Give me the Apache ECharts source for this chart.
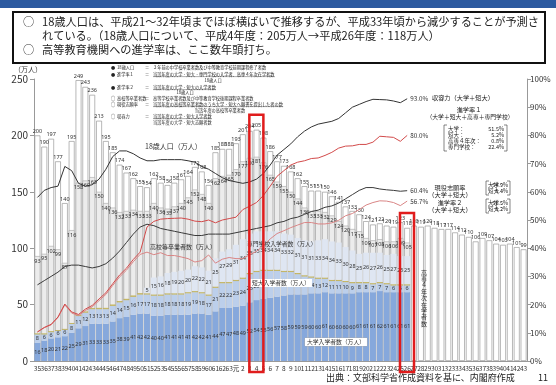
<!DOCTYPE html>
<html><head><meta charset="utf-8">
<script src="https://cdn.jsdelivr.net/npm/echarts@6/dist/echarts.min.js"></script>
<style>html,body{margin:0;padding:0;background:#fff}#c{width:556px;height:385px}</style>
</head><body><div id="c"></div>
<script>
// ---- categories (S = 昭和, H = 平成; prefix stripped in the tick labels)
const categories = ['S35','S36','S37','S38','S39','S40','S41','S42','S43','S44','S45','S46','S47','S48','S49','S50','S51','S52','S53','S54','S55','S56','S57','S58','S59','S60','S61','S62','S63',
'H元','H2','H3','H4','H5','H6','H7','H8','H9','H10','H11','H12','H13','H14','H15','H16','H17','H18','H19','H20','H21','H22','H23','H24','H25','H26',
'H27','H28','H29','H30','H31','H32','H33','H34','H35','H36','H37','H38','H39','H40','H41','H42','H43'];

// 18歳人口（万人）
const pop18 = [200,190,197,177,140,195,249,243,236,213,
195,185,174,167,162,155,154,162,158,156,
158,161,164,172,168,156,185,188,188,193,
201,204,205,198,186,177,173,168,162,155,
151,151,150,146,141,137,133,130,124,121,
122,120,119,123,118,
120,119,120,118,117,117,114,112,110,106,109,107,104,103,104,101,99];

// 高校等卒業者数（万人）
const hsGrad = [93,95,102,99,87,116,158,160,163,150,
140,136,132,133,134,133,133,140,136,135,
137,140,145,152,148,140,162,164,165,170,
177,180,181,176,165,159,155,150,144,136,
133,133,132,129,124,120,117,115,109,107,
108,106,106,109,105];

// 大学入学者数（万人）
const univ = [16,18,20,21,22,25,29,31,33,33,
33,35,38,39,41,42,42,40,40,41,
41,41,41,42,42,41,44,47,47,48,
49,52,54,55,56,57,58,59,59,59,
60,60,61,60,60,60,60,61,61,61,
62,61,61,61,61];

// 短大入学者数（万人）
const junior = [8,6,6,6,6,8,11,12,13,13,
13,14,14,15,16,17,17,18,18,18,
18,18,19,19,18,17,21,22,22,23,
24,25,25,25,24,23,21,20,18,16,
14,13,12,11,11,10,9,8,8,7,
7,7,6,6,6];

// 高専4年次在学者数（万人）
const kosen = [0,0,0,0,0,0.5,0.7,0.8,0.9,1,
1,1,1,1,1,1,1,1,1,1,
1,1,1,1,1,1,1,1,1,1,
1,1,1,1,1,1,1,1,1,1,
1,1,1,1,1,1,1,1,1,1,
1,1,1,1,1];

// 専門学校入学者数（万人）
const senmon = [null,null,null,null,null,null,null,null,null,null,
null,null,null,null,null,null,5,15,16,18,
19,20,20,22,22,21,25,27,29,31,
34,35,35,34,34,34,33,32,31,31,
31,33,34,34,33,30,28,25,26,27,
26,25,27,25,25];

// 収容力（大学＋短大）%
const shuyou = [58,60.5,61.5,62,69,67.5,63,62,62.5,64.5,
68,72.5,74.5,74.5,73.5,72,71,71,71.4,71.4,
71.4,71.4,71,70.5,69,68,66.5,65,64,63.5,
63,63.5,64.5,66.5,69.5,73,75,77,79.5,81.5,
83,84,84.5,85,86,88,90,91,92,92.8,
92.7,92.6,92.2,91.6,93.0];

// 進学率1（大学＋短大＋高専＋専門学校）%
const shingaku1 = [10.3,11.9,13.0,15.6,20.2,17.4,16.5,18.4,19.7,22.0,
24.2,27.4,30.5,32.9,36.0,38.6,47.5,49.5,50.3,50.5,
50.6,50.7,50.3,49.6,49.4,50.0,49.0,50.0,50.5,51.0,
53.7,54.9,56.2,58.7,62.0,65.5,67.5,69.5,70.5,71.0,
71.8,72.0,72.9,74.0,75.5,76.2,76.3,76.8,76.8,77.6,
79.7,79.5,79.3,77.9,80.0];

// 現役志願率（大学＋短大）%
const genekiShigan = [27,28.5,30,31.5,33.5,34,34,33.5,33,33.5,
34.5,36.5,39,42,45,47.5,48.5,48,47,46.5,
46,45.5,45,44.5,44.5,45,45,45,45,45.5,
46,46.5,47,47.5,48,49,49.5,50.5,51,52,
53,53.5,54.5,55,56,57.5,59,60.5,61.5,61.5,
61,60.7,60.5,60.2,60.4];

// 進学率2（大学＋短大）%
const shingaku2 = [10.3,11.8,12.8,15.4,19.9,17.0,16.1,17.9,19.2,21.4,
23.6,26.8,29.8,32.2,35.2,37.8,38.6,37.7,38.4,37.4,
37.4,36.9,36.3,35.1,35.6,37.6,34.7,36.1,36.7,36.3,
36.3,37.7,38.9,40.9,43.3,45.2,46.2,47.3,48.2,49.1,
49.1,48.6,48.6,49.0,49.9,51.5,52.3,53.7,55.3,56.2,
56.8,56.7,56.2,55.1,56.7];

const leftTicks = [0,50,100,150,200,250];
const rightTicks = [0,10,20,30,40,50,60,70,80,90,100];

const FONT = '"Noto Sans CJK JP","Noto Sans",sans-serif';
const chart = echarts.init(document.getElementById('c'), null, {renderer:'canvas'});

const lbl = (pos, extra) => Object.assign({show:true, position:pos, fontSize:5.5, color:'#333', fontFamily:'"Noto Sans",sans-serif'}, extra||{});
const endLbl = {show:true, fontSize:6.3, color:'#333', distance:3, formatter: p => Number(p.value).toFixed(1) + '%'};

const option = {
  animation:false,
  textStyle:{fontFamily:FONT},
  grid:{left:34,right:29,top:79,bottom:24},
  xAxis:{type:'category', data:categories,
    axisLine:{lineStyle:{color:'#999'}}, axisTick:{show:false},
    axisLabel:{interval:0, fontSize:6.6, color:'#333', margin:4, formatter:v=>v.slice(1)}},
  yAxis:[
    {type:'value', min:leftTicks[0], max:leftTicks[leftTicks.length-1], interval:50,
     axisLine:{show:true,lineStyle:{color:'#999'}}, axisTick:{show:true,length:4,lineStyle:{color:'#999'}},
     axisLabel:{fontSize:10, color:'#333', margin:6}, splitLine:{show:false}},
    {type:'value', min:rightTicks[0], max:rightTicks[rightTicks.length-1], interval:10, position:'right',
     axisLine:{show:true,lineStyle:{color:'#999'}}, axisTick:{show:true,length:4,lineStyle:{color:'#999'}},
     axisLabel:{formatter:'{value}%', fontSize:8, color:'#333', margin:3}, splitLine:{show:false}}
  ],
  series:[
    {name:'18歳人口', type:'bar', data:pop18, barGap:'-100%', barCategoryGap:'14%', z:2,
     itemStyle:{color:'#ffffff', borderColor:'#9a9a9a', borderWidth:0.7}, label:lbl('top',{distance:1})},
    {name:'高校等卒業者数', type:'bar', data:hsGrad, barGap:'-100%', barCategoryGap:'14%', z:3,
     itemStyle:{color:'#ececec', borderColor:'#a6a6a6', borderWidth:0.6}, label:lbl('insideTop',{distance:2})},
    {name:'大学入学者数', type:'bar', stack:'e', data:univ, barGap:'-100%', barCategoryGap:'14%', z:4,
     itemStyle:{color:'#86a8dc'}, label:lbl('inside')},
    {name:'短大入学者数', type:'bar', stack:'e', data:junior, barGap:'-100%', barCategoryGap:'14%', z:4,
     itemStyle:{color:'#bccfeb'}, label:lbl('inside')},
    {name:'高専4年次在学者数', type:'bar', stack:'e', data:kosen, barGap:'-100%', barCategoryGap:'14%', z:4,
     itemStyle:{color:'#bfae50', borderColor:'#bfae50', borderWidth:0.6}},
    {name:'専門学校入学者数', type:'bar', stack:'e', data:senmon, barGap:'-100%', barCategoryGap:'14%', z:4,
     itemStyle:{color:'#dfe6f2'}, label:lbl('inside')},
    {name:'進学率2', type:'line', yAxisIndex:1, data:shingaku2, symbol:'none', z:6,
     lineStyle:{color:'#d98585', width:1}, endLabel:endLbl},
    {name:'現役志願率', type:'line', yAxisIndex:1, data:genekiShigan, symbol:'none', z:6,
     lineStyle:{color:'#3a3a3a', width:1}, endLabel:endLbl},
    {name:'進学率1', type:'line', yAxisIndex:1, data:shingaku1, symbol:'none', z:6,
     lineStyle:{color:'#d24a4a', width:1}, endLabel:endLbl},
    {name:'収容力', type:'line', yAxisIndex:1, data:shuyou, symbol:'none', z:6,
     lineStyle:{color:'#333333', width:1}, endLabel:endLbl}
  ]
};
chart.setOption(option);

// ---- annotations
const G = [];
function T(text, x, y, fs, extra){ G.push({type:'text', z:50, style:Object.assign({text:text, x:x, y:y, fontSize:fs, fontFamily:FONT, fill:'#222', align:'left', verticalAlign:'middle'}, extra||{})}); }
function L(x1,y1,x2,y2,c,w){ G.push({type:'line', z:50, shape:{x1,y1,x2,y2}, style:{stroke:c||'#333', lineWidth:w||0.5}}); }
function P(points,c,w){ G.push({type:'polyline', z:50, shape:{points}, style:{stroke:c||'#333', lineWidth:w||0.6, fill:null}}); }

// header band + text box
G.push({type:'rect', z:40, shape:{x:0,y:0,width:556,height:8}, style:{fill:'#2c5aa0'}});
G.push({type:'rect', z:40, shape:{x:13,y:12,width:532,height:51}, style:{fill:'#fff', stroke:'#111', lineWidth:2}});
const MF = 11.2;
T('○', 23, 22, MF, {fill:'#333'});
T('18歳人口は、平成21～32年頃までほぼ横ばいで推移するが、平成33年頃から減少することが予測さ', 42, 22, MF, {fill:'#222'});
T('れている。（18歳人口について、平成4年度：205万人→平成26年度：118万人）', 42, 36, MF, {fill:'#222'});
T('○', 23, 50, MF, {fill:'#333'});
T('高等教育機関への進学率は、ここ数年頭打ち。', 42, 50, MF, {fill:'#222'});

// axis unit
T('（万人）', 28, 69, 7, {align:'center', fill:'#333'});

// definitions block
const DF = 4.2;
const defRows = [
  ['●','18歳人口',67,'３年前の中学校卒業者数及び中等教育学校前期課程修了者数',false],
  ['●','進学率１',74,'当該年度の大学・短大・専門学校の入学者、高専４年次在学者数',true],
  ['●','進学率２',87,'当該年度の大学・短大の入学者数',true],
  ['○','高校等卒業者数',98,'高等学校卒業者数及び中等教育学校後期課程卒業者数',false],
  ['○','現役志願率',104,'当該年度の高校等卒業者数のうち大学・短大へ願書を提出した者の数',true],
  ['○','収容力',116,'当該年度の大学・短大入学者数',true]
];
defRows.forEach(r=>{
  T(r[0],111,r[2],DF);
  T(r[1],117,r[2],DF);
  T('＝',145,r[2],DF);
  T(r[3],153,r[2],DF);
  if(r[4]) L(153, r[2]+2.6, 153 + r[3].length*DF, r[2]+2.6, '#333', 0.4);
});
T('18歳人口', 213, 80, DF, {align:'center'});
T('18歳人口', 185, 92.5, DF, {align:'center'});
T('当該年度の高校等卒業者数', 220, 110, DF, {align:'center'});
T('当該年度の大学・短大志願者数', 153, 122, DF);

// in-chart series labels
T('18歳人口（万人）', 145, 146, 7, {fill:'#333'});
T('高校等卒業者数（万人）', 150, 247, 6, {fill:'#333'});
T('専門学校入学者数（万人）', 247, 244, 5.8, {fill:'#333'});
T('短大入学者数（万人）', 250, 283, 5.8, {fill:'#333', backgroundColor:'#fff', padding:[1,2]});
T('大学入学者数（万人）', 305, 342, 5.8, {fill:'#333', backgroundColor:'#fff', borderColor:'#aaa', borderWidth:0.5, padding:[1,2]});
T('高専４年次在学者数'.split('').join('\n'), 424, 298, 6, {align:'center', lineHeight:6.4, fill:'#333'});

// right-hand annotations
const AF = 6.2;
T('収容力（大学＋短大）', 432, 98, AF);
T('進学率１', 469, 110, AF, {align:'center'});
T('（大学＋短大＋高専＋専門学校）', 470, 117, 5.8, {align:'center'});
[['大学：','51.5%',129],['短大：','5.2%',135],['高専４年次：','0.8%',141],['専門学校：','22.4%',147]].forEach(r=>{
  T(r[0],448,r[2],5.5); T(r[1],504,r[2],5.5,{align:'right'});
});
P([[447,125],[444,125],[444,151],[447,151]]); P([[504,125],[507,125],[507,151],[504,151]]);
T('現役志願率', 450, 188, AF, {align:'center'});
T('（大学＋短大）', 450, 195, AF, {align:'center'});
T('進学率２', 450, 203, AF, {align:'center'});
T('（大学＋短大）', 450, 210, AF, {align:'center'});
[['大学：','54.9%',185],['短大：','5.4%',191],['大学：','51.5%',203],['短大：','5.2%',209]].forEach(r=>{
  T(r[0],488,r[2],5.5); T(r[1],508,r[2],5.5,{align:'right'});
});
P([[489,181],[486,181],[486,195],[489,195]]); P([[507,181],[510,181],[510,195],[507,195]]);
P([[489,199],[486,199],[486,213],[489,213]]); P([[507,199],[510,199],[510,213],[507,213]]);

// footer
T('出典：文部科学省作成資料を基に、内閣府作成', 326, 378, 9, {fill:'#222'});
T('11', 538, 378, 9, {fill:'#222'});

// red highlight boxes around H4 and H26, positioned from the axes
function px(cat,val){ return chart.convertToPixel({xAxisIndex:0,yAxisIndex:0},[cat,val]); }
const band = px('S36',0)[0] - px('S35',0)[0];
function box(cat){
  const i = categories.indexOf(cat);
  const top = px(cat, pop18[i]); const bot = px(cat, 0);
  const x0 = top[0] - band*1.05, y0 = top[1] - 15;
  G.push({type:'rect', z:60, shape:{x:x0, y:y0, width:band*2.05, height:(bot[1]+11)-y0}, style:{fill:null, stroke:'#e01c1c', lineWidth:2.5}});
}
box('H4'); box('H26');

chart.setOption({graphic:G});
</script></body></html>
